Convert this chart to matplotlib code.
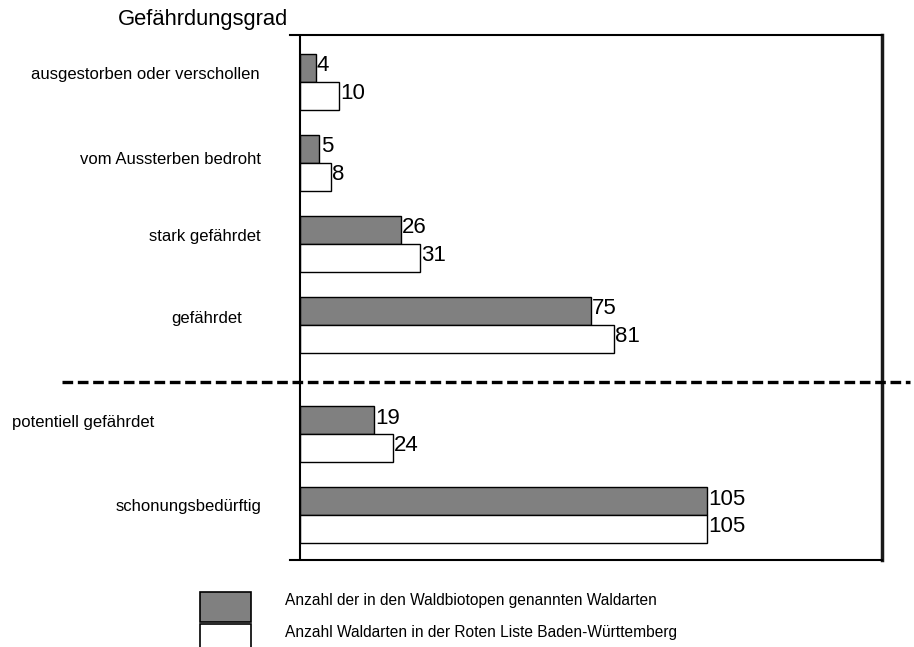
import matplotlib.pyplot as plt
import numpy as np
from matplotlib.lines import Line2D
from matplotlib.patches import Rectangle

plt.rcParams['font.family'] = ['Liberation Sans', 'DejaVu Sans']

# Daten
kategorien = ["ausgestorben oder verschollen", "vom Aussterben bedroht",
              "stark gefährdet", "gefährdet", "potentiell gefährdet",
              "schonungsbedürftig"]
waldbiotope = [4, 5, 26, 75, 19, 105]
rote_liste = [10, 8, 31, 81, 24, 105]
legende = ["Anzahl der in den Waldbiotopen genannten Waldarten",
           "Anzahl Waldarten in der Roten Liste Baden-Württemberg"]

W, H = 914, 647
fig = plt.figure(figsize=(W / 100, H / 100), dpi=100)


def fx(px):
    return px / W


def fy(py):
    return 1 - py / H


ax = fig.add_axes([fx(290), fy(560), fx(882) - fx(290), fy(35) - fy(560)])

# Gruppen-Positionen, mit Abstand nach "gefährdet"
pos = np.arange(len(kategorien), dtype=float)
pos[4:] += 0.35
h = 0.345

ax.barh(pos - h / 2, waldbiotope, height=h, color='#808080',
        edgecolor='black', linewidth=1)
ax.barh(pos + h / 2, rote_liste, height=h, color='white',
        edgecolor='black', linewidth=1)

for y, v in zip(pos - h / 2, waldbiotope):
    ax.text(v + 0.3, y - 0.03, str(v), ha='left', va='center', fontsize=16)
for y, v in zip(pos + h / 2, rote_liste):
    ax.text(v + 0.3, y - 0.03, str(v), ha='left', va='center', fontsize=16)

ax.set_xlim(-2.58, 150)
ax.set_ylim(5.90, -0.58)
ax.axvline(0, color='black', linewidth=1.5)
ax.set_xticks([])
ax.set_yticks([])
ax.spines['left'].set_visible(False)
ax.spines['top'].set_linewidth(1.5)
ax.spines['bottom'].set_linewidth(1.5)
ax.spines['right'].set_linewidth(2.5)
ax.spines['right'].set_color('#1a1a1a')

# Kategorie-Beschriftungen
lab_x = [145, 171, 205, 207, 83, 189]
lab_y = [74, 160, 236, 319, 423, 507]
for t, x, y in zip(kategorien, lab_x, lab_y):
    fig.text(fx(x), fy(y), t, ha='center', va='center', fontsize=12)

fig.text(fx(118), fy(20), "Gefährdungsgrad", ha='left', va='center',
         fontsize=15.8)

# gestrichelte Trennlinie
fig.add_artist(Line2D([fx(62), fx(910)], [fy(382), fy(382)],
                      transform=fig.transFigure, color='black',
                      linewidth=2.4, linestyle=(0, (3.2, 1.4))))

# Legende
fig.add_artist(Rectangle((fx(200), fy(622)), fx(251) - fx(200),
                         fy(592) - fy(622), transform=fig.transFigure,
                         facecolor='#808080', edgecolor='black', linewidth=1.2))
fig.add_artist(Rectangle((fx(200), fy(660)), fx(251) - fx(200),
                         fy(624) - fy(660), transform=fig.transFigure,
                         facecolor='white', edgecolor='black', linewidth=1.2))
fig.text(fx(285), fy(601), legende[0], ha='left', va='center', fontsize=11.2)
fig.text(fx(285), fy(633), legende[1], ha='left', va='center', fontsize=11.2)

fig.savefig('out.png', dpi=100)
